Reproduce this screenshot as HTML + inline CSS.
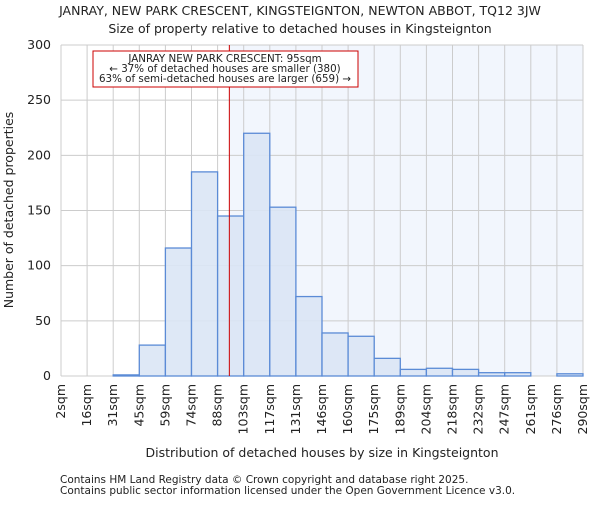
<!DOCTYPE html>
<html><head><meta charset="utf-8"><style>
body{margin:0;background:#fff;}
svg text{font-family:"DejaVu Sans","Liberation Sans",sans-serif;fill:#222;}
</style></head><body>
<svg id="chart" width="600" height="500" xmlns="http://www.w3.org/2000/svg">
<text x="300" y="15" text-anchor="middle" font-size="12.5">JANRAY, NEW PARK CRESCENT, KINGSTEIGNTON, NEWTON ABBOT, TQ12 3JW</text>
<text x="300" y="33" text-anchor="middle" font-size="12.5">Size of property relative to detached houses in Kingsteignton</text>
<g id="plot"></g>
<text x="322" y="457" text-anchor="middle" font-size="12.5">Distribution of detached houses by size in Kingsteignton</text>
<text transform="translate(13,210) rotate(-90)" text-anchor="middle" font-size="12.5">Number of detached properties</text>
<text x="60" y="483" font-size="10.5">Contains HM Land Registry data © Crown copyright and database right 2025.</text>
<text x="60" y="494" font-size="10.5">Contains public sector information licensed under the Open Government Licence v3.0.</text>
</svg>
<script>
const binLabels=["2sqm","16sqm","31sqm","45sqm","59sqm","74sqm","88sqm","103sqm","117sqm","131sqm","146sqm","160sqm","175sqm","189sqm","204sqm","218sqm","232sqm","247sqm","261sqm","276sqm","290sqm"];
const counts=[0,0,1,28,116,185,145,220,153,72,39,36,16,6,7,6,3,3,0,2];
const yTicks=[0,50,100,150,200,250,300];
const markerIndex=6.45;
const NS="http://www.w3.org/2000/svg";
const g=document.getElementById('plot');
const x0=61,x1=583,y0=376,y1=45,yMax=300;
const bw=(x1-x0)/counts.length;
const X=i=>x0+i*bw;
const Y=v=>y0-(v/yMax)*(y0-y1);
function mk(t,a){const e=document.createElementNS(NS,t);for(const k in a)e.setAttribute(k,a[k]);g.appendChild(e);return e;}
let e;
const mx=X(markerIndex);
e=mk('rect',{x:mx,y:y1,width:x1-mx,height:y0-y1,fill:'#f2f6fd'});


for(let i=0;i<=counts.length;i++){e=mk('line',{x1:X(i),x2:X(i),y1:y1,y2:y0,stroke:'#cccccc','stroke-width':1});

}
yTicks.forEach(t=>{e=mk('line',{x1:x0,x2:x1,y1:Y(t),y2:Y(t),stroke:'#cccccc','stroke-width':1});


e=mk('text',{x:x0-10,y:Y(t)+4,'text-anchor':'end','font-size':12.5});e.textContent=t;

});
counts.forEach((c,i)=>{if(c<=0)return;e=mk('rect',{x:X(i),y:Y(c),width:bw,height:y0-Y(c),fill:'#dae5f5',stroke:'#5b8bd6','stroke-width':1.3,'fill-opacity':0.9});

});
binLabels.forEach((l,i)=>{e=mk('text',{transform:`translate(${X(i)+4},384) rotate(-90)`,'text-anchor':'end','font-size':12.5});e.textContent=l;

});
e=mk('line',{x1:mx,x2:mx,y1:y1,y2:y0,stroke:'#cc0000','stroke-width':1});


e=mk('rect',{x:93,y:51,width:265,height:36,fill:'#fff',stroke:'#cc0000','stroke-width':1});


["JANRAY NEW PARK CRESCENT: 95sqm","← 37% of detached houses are smaller (380)","63% of semi-detached houses are larger (659) →"].forEach((s,k)=>{e=mk('text',{x:225,y:62+k*10,'text-anchor':'middle','font-size':10.3});e.textContent=s;

});
</script>
</body></html>
